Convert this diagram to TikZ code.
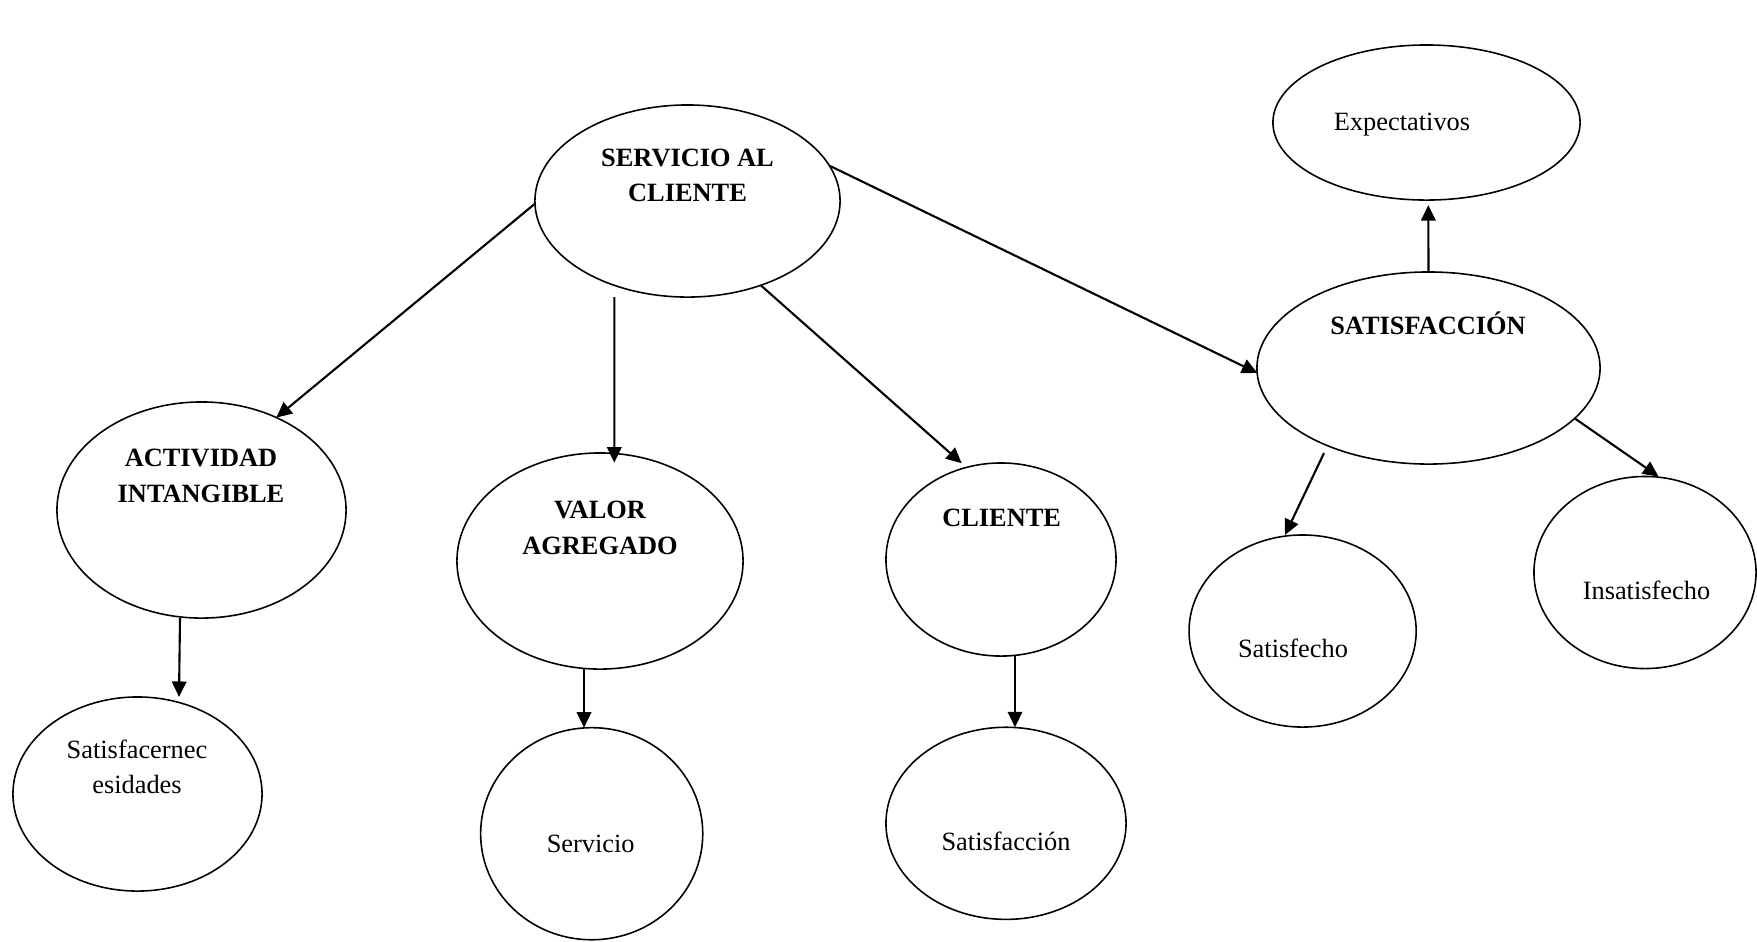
\documentclass[tikz,border=0pt]{standalone}
\usepackage{fontspec}
\setmainfont{Liberation Serif}
\usetikzlibrary{shapes.geometric,arrows.meta,calc}
\begin{document}
\begin{tikzpicture}[x=0.01cm,y=-0.01cm,
  bubble/.style={draw,ellipse,line width=0.45pt,inner sep=0pt,outer sep=0pt},
  txt/.style={anchor=base,inner sep=0pt,font=\fontsize{7.5pt}{10pt}\selectfont},
  btxt/.style={anchor=base,inner sep=0pt,font=\fontsize{7.5pt}{10pt}\selectfont\bfseries},
  link/.style={line width=0.6pt,-{Triangle[length=0.155cm,width=0.145cm]}}]
\useasboundingbox (0,0) rectangle (1757,941);

% ellipses
\node[bubble,minimum width=3.05cm,minimum height=1.92cm] (serv) at (687.5,201) {};
\node[bubble,minimum width=2.89cm,minimum height=2.16cm] (activ) at (201.5,510) {};
\node[bubble,minimum width=2.49cm,minimum height=1.94cm] (satnec) at (137.5,794) {};
\node[bubble,minimum width=2.86cm,minimum height=2.16cm] (valor) at (600,561) {};
\node[bubble,minimum width=2.22cm,minimum height=2.12cm] (servicio) at (591.7,833.7) {};
\node[bubble,minimum width=2.30cm,minimum height=1.93cm] (cliente) at (1001,559.5) {};
\node[bubble,minimum width=2.40cm,minimum height=1.92cm] (satisfaccion) at (1006,823.3) {};
\node[bubble,minimum width=3.43cm,minimum height=1.92cm] (satisf) at (1428.5,368) {};
\node[bubble,minimum width=3.07cm,minimum height=1.55cm] (expect) at (1426.5,122.5) {};
\node[bubble,minimum width=2.27cm,minimum height=1.92cm] (satisfecho) at (1302.6,631) {};
\node[bubble,minimum width=2.22cm,minimum height=1.92cm] (insatisf) at (1645,572.5) {};

% labels
\node[btxt] (serv-a) at (687.5,166.7) {SERVICIO AL};
\node[btxt] (serv-b) at (687.5,201.7) {CLIENTE};
\node[btxt] (activ-a) at (201,466.7) {ACTIVIDAD};
\node[btxt] (activ-b) at (201,502.7) {INTANGIBLE};
\node[txt] (satnec-a) at (137,758) {Satisfacernec};
\node[txt] (satnec-b) at (137,793) {esidades};
\node[btxt] (valor-a) at (600,518.3) {VALOR};
\node[btxt] (valor-b) at (600,554) {AGREGADO};
\node[txt] (servicio-a) at (590.7,852.7) {Servicio};
\node[btxt] (cliente-a) at (1001.7,526) {CLIENTE};
\node[txt] (satisfaccion-a) at (1006,850) {Satisfacción};
\node[btxt] (satisf-a) at (1428,334) {SATISFACCIÓN};
\node[txt] (expect-a) at (1402,130) {Expectativos};
\node[txt] (satisfecho-a) at (1293,657.3) {Satisfecho};
\node[txt] (insatisf-a) at (1646.5,599) {Insatisfecho};

% connectors
\draw[link] (serv.181) -- (activ.51);
\draw[link] ($(serv.south)+(-73.2,0)$) -- ($(valor.north)+(14.3,9.7)$);
\draw[link] (serv.311.5) -- ($(cliente.north)+(-39.3,0.3)$);
\draw[link] (serv.14.5) -- ($(satisf.west)+(0.5,5)$);
\draw[link] (satisf.north) -- ($(expect.south)+(1.8,5)$);
\draw[link] ($(satisf.south)+(-104.5,-11)$) -- ($(satisfecho.north)+(-17.6,0)$);
\draw[link] (satisf.341.4) -- ($(insatisf.north)+(13.5,0)$);
\draw[link] ($(activ.south)+(-21.5,0)$) -- ($(satnec.north)+(41.5,0)$);
\draw[link] ($(valor.south)+(-16,0)$) -- ($(servicio.north)+(-7.7,0)$);
\draw[link] ($(cliente.south)+(14,0)$) -- ($(satisfaccion.north)+(9,0)$);
\end{tikzpicture}
\end{document}
